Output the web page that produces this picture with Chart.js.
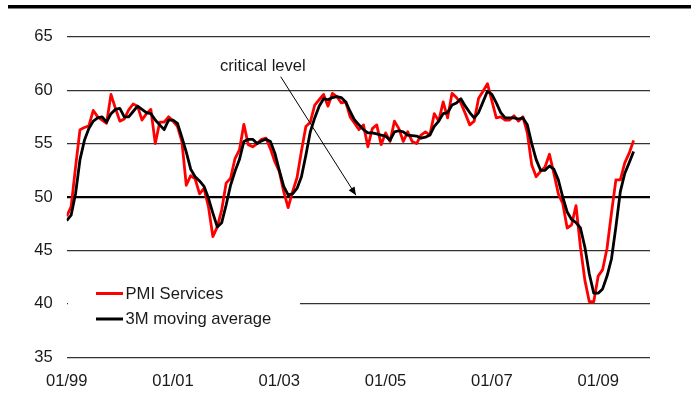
<!DOCTYPE html>
<html>
<head>
<meta charset="utf-8">
<script src="https://cdn.jsdelivr.net/npm/chart.js@4/dist/chart.umd.min.js"></script>
<style>
html,body{margin:0;padding:0;background:#fff;}
canvas{display:block;}
</style>
</head>
<body>
<canvas id="c" width="691" height="399"></canvas>
<script>
// Month index 0 = 01/1999
const tickMonths = [0, 24, 48, 72, 96, 120];
const tickLabels = ['01/99', '01/01', '01/03', '01/05', '01/07', '01/09'];
const seriesNames = ['PMI Services', '3M moving average'];

const pmiServices = [
  48.2, 49.1, 52.8, 56.3, 56.5, 56.65, 58.1, 57.5, 57.2, 56.9, 59.6, 58.3,
  57.1, 57.3, 58.15, 58.7, 58.5, 57.2, 57.8, 58.2, 55.0, 57.0, 57.0, 57.5,
  57.1, 56.6, 55.2, 51.1, 52.0, 51.7, 50.3, 50.8, 49.1, 46.3, 47.2, 48.8,
  51.3, 51.75, 53.6, 54.4, 56.8, 54.9, 54.7, 55.0, 55.4, 55.5, 54.5, 53.3,
  52.4, 50.5, 49.0, 50.5, 51.8, 54.3, 56.6, 57.0, 58.6, 59.1, 59.6, 58.5,
  59.7, 59.4, 58.8, 58.9, 57.5, 56.9, 56.3, 56.75, 54.7, 56.4, 56.75, 54.9,
  56.0, 55.2, 57.1, 56.4, 55.2, 56.1, 55.2, 55.0, 55.8, 56.1, 55.8, 57.8,
  57.1, 58.9, 57.4, 59.7, 59.3, 58.8, 57.8, 56.75, 57.1, 59.25, 59.9, 60.6,
  59.0, 57.4, 57.5, 57.2, 57.2, 57.6, 57.1, 57.5, 56.0, 53.0, 51.9, 52.4,
  52.8, 54.0, 52.2, 50.3, 49.4, 47.1, 47.4, 49.2, 45.3, 42.2, 40.2, 40.2,
  42.6, 43.2, 45.2, 48.5, 51.6, 51.6, 53.2, 54.1, 55.3
];

const movingAvg3M = [
  47.8, 48.3, 50.3, 53.5, 55.3, 56.4, 57.1, 57.4, 57.5, 57.0, 57.8, 58.2,
  58.3, 57.5, 57.5, 58.0, 58.5, 58.2, 57.9, 57.8, 57.2, 56.75, 56.3, 57.2,
  57.2, 56.9, 55.6, 54.2, 52.6, 51.9, 51.5, 51.0, 49.9, 48.5, 47.2, 47.6,
  49.25, 51.1, 52.4, 53.5, 55.2, 55.4, 55.4, 55.0, 55.25, 55.4, 55.2, 54.1,
  52.5, 51.0, 50.2, 50.3, 50.8, 51.9, 53.9, 56.1, 57.4, 58.5, 59.2, 59.1,
  59.3, 59.4, 59.3, 58.9, 58.0, 57.2, 56.75, 56.3, 56.0, 56.0, 55.9, 55.8,
  55.7, 55.3, 56.1, 56.2, 56.1, 55.8, 55.75, 55.7, 55.5, 55.6, 55.8, 56.6,
  57.1, 57.8, 57.9, 58.6, 58.8, 59.2, 58.5, 57.9, 57.4, 57.9, 58.9, 59.9,
  59.6, 58.8, 57.9, 57.4, 57.4, 57.4, 57.3, 57.4, 56.75, 55.0, 53.5, 52.5,
  52.5, 52.9, 52.6, 51.6, 50.0, 48.6, 47.9, 47.6, 47.1, 45.3, 42.8, 41.0,
  41.0, 41.4, 42.6, 44.2, 47.2, 50.5, 52.2, 53.2, 54.25
];

const criticalLevel = 50;
const annotationText = 'critical level';

const FONT = '"Liberation Sans", Arial, Helvetica, sans-serif';
const FS = 16.6;
const toPoints = arr => arr.map((v, i) => ({ x: i, y: v }));

const decor = {
  id: 'decor',
  afterDatasetsDraw(chart) {
    const ctx = chart.ctx;
    const xs = chart.scales.x, ys = chart.scales.y;
    ctx.save();
    // annotation text + arrow
    ctx.fillStyle = '#1a1a1a';
    ctx.font = FS + 'px ' + FONT;
    ctx.textBaseline = 'alphabetic';
    ctx.textAlign = 'left';
    ctx.fillText(annotationText, 220, 70.5);
    const x0 = 280.7, y0 = 76.7;
    const x1 = xs.getPixelForValue(65.3);
    const y1 = ys.getPixelForValue(criticalLevel) - 1.8;
    ctx.strokeStyle = '#000';
    ctx.lineWidth = 1;
    ctx.beginPath();
    ctx.moveTo(x0, y0);
    ctx.lineTo(x1, y1);
    ctx.stroke();
    const ang = Math.atan2(y1 - y0, x1 - x0);
    const L = 8, W = 3.5;
    ctx.fillStyle = '#000';
    ctx.beginPath();
    ctx.moveTo(x1, y1);
    ctx.lineTo(x1 - L * Math.cos(ang) + W * Math.sin(ang), y1 - L * Math.sin(ang) - W * Math.cos(ang));
    ctx.lineTo(x1 - L * Math.cos(ang) - W * Math.sin(ang), y1 - L * Math.sin(ang) + W * Math.cos(ang));
    ctx.closePath();
    ctx.fill();

    // legend box
    ctx.fillStyle = '#fff';
    ctx.fillRect(68, 279, 232, 54);
    const items = [0, 1].map(i => chart.data.datasets[i]);
    items.forEach((ds, k) => {
      const y = 293.5 + k * 25.5;
      ctx.strokeStyle = ds.borderColor;
      ctx.lineWidth = 3;
      ctx.beginPath();
      ctx.moveTo(96, y);
      ctx.lineTo(123, y);
      ctx.stroke();
      ctx.fillStyle = '#1a1a1a';
      ctx.font = FS + 'px ' + FONT;
      ctx.textBaseline = 'middle';
      ctx.fillText(ds.label, 125.5, y + 0.5);
    });

    // top rule
    ctx.fillStyle = '#000';
    ctx.fillRect(8, 5, 683, 3.5);
    ctx.restore();
  }
};

new Chart(document.getElementById('c'), {
  type: 'line',
  data: {
    datasets: [
      {
        label: seriesNames[0],
        data: toPoints(pmiServices),
        borderColor: '#ff0000',
        borderWidth: 2.8,
        pointRadius: 0,
        tension: 0,
        borderJoinStyle: 'round',
        fill: false,
        order: 1
      },
      {
        label: seriesNames[1],
        data: toPoints(movingAvg3M),
        borderColor: '#000000',
        borderWidth: 2.8,
        pointRadius: 0,
        tension: 0,
        borderJoinStyle: 'round',
        fill: false,
        order: 0
      }
    ]
  },
  options: {
    responsive: false,
    animation: false,
    devicePixelRatio: 1,
    layout: { padding: { top: 36.7, right: 41, left: 0, bottom: 0 } },
    plugins: { legend: { display: false }, tooltip: { enabled: false } },
    scales: {
      x: {
        type: 'linear',
        min: 0,
        max: 131.7,
        afterFit(s) { s.height = 41.7; },
        afterBuildTicks(s) { s.ticks = tickMonths.map(v => ({ value: v })); },
        grid: { display: false, drawTicks: false },
        border: { display: false },
        ticks: {
          padding: 14,
          maxRotation: 0,
          autoSkip: false,
          color: '#1a1a1a',
          font: { family: FONT, size: FS },
          callback: v => {
            const k = tickMonths.indexOf(v);
            return k >= 0 ? tickLabels[k] : '';
          }
        }
      },
      y: {
        min: 35,
        max: 65,
        afterFit(s) { s.width = 66.7; },
        grid: {
          drawTicks: false,
          color: ctx => ctx.tick && ctx.tick.value === criticalLevel ? '#000' : '#333',
          lineWidth: ctx => ctx.tick && ctx.tick.value === criticalLevel ? 2.2 : 1.2
        },
        border: { display: false },
        ticks: {
          stepSize: 5,
          padding: 14,
          color: '#1a1a1a',
          font: { family: FONT, size: FS }
        }
      }
    }
  },
  plugins: [decor]
});
</script>
</body>
</html>
